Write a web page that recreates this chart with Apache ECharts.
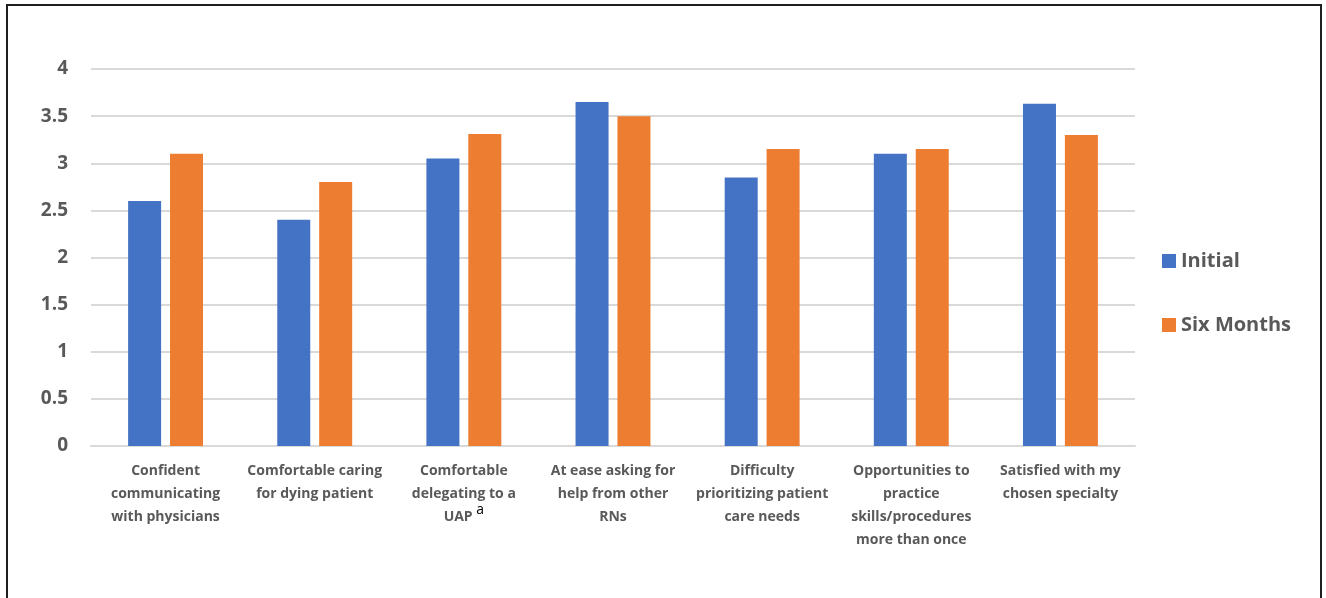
<!DOCTYPE html>
<html>
<head>
<meta charset="utf-8">
<script src="https://cdn.jsdelivr.net/npm/echarts@6/dist/echarts.min.js"></script>
<style>
  html, body { margin: 0; padding: 0; background: #fff; }
  #chart { width: 1326px; height: 598px; }
</style>
</head>
<body>
<div id="chart"></div>
<script>
// Survey items (line breaks as they wrap under each group)
const categories = [
  'Confident\ncommunicating\nwith physicians',
  'Comfortable caring\nfor dying patient',
  'Comfortable\ndelegating to a\nUAP',
  'At ease asking for\nhelp from other\nRNs',
  'Difficulty\nprioritizing patient\ncare needs',
  'Opportunities to\npractice\nskills/procedures\nmore than once',
  'Satisfied with my\nchosen specialty'
];
// Items carrying a footnote marker
const footnotes = { 2: 'a' };

const initialScores = [2.6, 2.4, 3.05, 3.65, 2.85, 3.1, 3.63];
const sixMonthScores = [3.1, 2.8, 3.31, 3.5, 3.15, 3.15, 3.3];

const yTicks = { min: 0, max: 4, interval: 0.5 };

const FONT = '"Open Sans", "Noto Sans", sans-serif';
const TEXT = '#595959';

const chart = echarts.init(document.getElementById('chart'));
chart.setOption({
  animation: false,
  backgroundColor: '#fff',
  textStyle: { fontFamily: FONT },
  graphic: [{
    type: 'rect',
    shape: { x: 7, y: 5, width: 1314, height: 640 },
    style: { fill: 'none', stroke: '#1f1f1f', lineWidth: 2 },
    silent: true
  }],
  grid: { left: 91, right: 191, top: 69, bottom: 152, containLabel: false },
  legend: {
    orient: 'vertical',
    left: 1157,
    top: 246,
    itemWidth: 14,
    itemHeight: 14,
    itemGap: 44,
    icon: 'rect',
    textStyle: { color: TEXT, fontSize: 20, fontWeight: 'bold', fontFamily: FONT },
    data: ['Initial', 'Six Months']
  },
  xAxis: {
    type: 'category',
    data: categories,
    axisTick: { show: false },
    axisLine: { show: true, lineStyle: { color: '#d9d9d9', width: 2 } },
    axisLabel: {
      interval: 0,
      margin: 14,
      color: TEXT,
      fontSize: 14,
      fontWeight: 'bold',
      lineHeight: 23,
      fontFamily: FONT,
      formatter: function (value, idx) {
        const mark = footnotes[idx];
        return mark ? value + ' {sup|' + mark + '}' : value;
      },
      rich: {
        sup: { fontSize: 14, fontWeight: 'normal', color: '#000', verticalAlign: 'bottom', padding: [0, 0, 12, 0], fontFamily: FONT }
      }
    }
  },
  yAxis: {
    type: 'value',
    min: yTicks.min,
    max: yTicks.max,
    interval: yTicks.interval,
    axisLine: { show: false },
    axisTick: { show: false },
    splitLine: { lineStyle: { color: '#d9d9d9', width: 2 } },
    axisLabel: { color: TEXT, fontSize: 19, fontWeight: 'bold', margin: 23, fontFamily: FONT }
  },
  series: [
    {
      name: 'Initial',
      type: 'bar',
      data: initialScores,
      barWidth: 33,
      barGap: '27%',
      itemStyle: { color: '#4472C4' }
    },
    {
      name: 'Six Months',
      type: 'bar',
      data: sixMonthScores,
      barWidth: 33,
      itemStyle: { color: '#ED7D31' }
    }
  ]
});
</script>
</body>
</html>
